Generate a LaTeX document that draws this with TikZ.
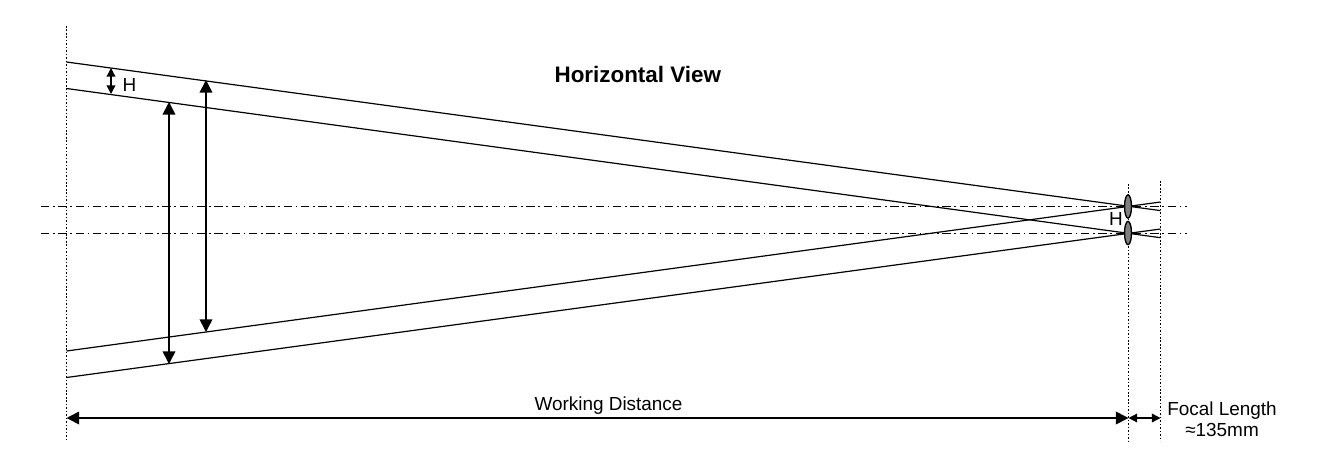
\documentclass[tikz,border=0pt]{standalone}
\usepackage{fontspec}
\setmainfont{Liberation Sans}
\usetikzlibrary{arrows.meta,shapes.geometric}
\tikzset{every picture/.style={line width=0.75pt},
  beam/.style={line width=0.9pt},
  guide/.style={line width=0.9pt,dash pattern=on 1.2pt off 1.4pt},
  axis/.style={line width=0.75pt,dash pattern=on 6.2pt off 2.85pt on 1.1pt off 2.85pt},
  dim/.style={line width=1.2pt,{Triangle[length=9.5pt,width=9.5pt]}-{Triangle[length=9.5pt,width=9.5pt]}},
  smalldim/.style={line width=1pt,{Triangle[length=6.5pt,width=6.5pt]}-{Triangle[length=6.5pt,width=6.5pt]}},
  lens/.style={draw,line width=1pt,fill=black!50,ellipse,minimum width=5.2pt,minimum height=17.5pt,inner sep=0pt},
  lbl/.style={inner sep=0.75pt,font=\fontsize{14.2}{15.75}\selectfont,align=center}}
\begin{document}
\begin{tikzpicture}[x=0.75pt,y=0.75pt,yscale=-1,xscale=1]
\useasboundingbox (0,0) rectangle (1319,467);

%Guide ends
\coordinate (objT) at (66.5,26);
\coordinate (objB) at (66.5,441);
\coordinate (lensT) at (1128.5,184);
\coordinate (lensB) at (1128.5,441);
\coordinate (focT) at (1160.5,181);
\coordinate (focB) at (1160.5,441);
\draw [guide] (objT) -- (objB);
\draw [guide] (lensT) -- (lensB);
\draw [guide] (focT) -- (focB);

%Center lines
\coordinate (axisAL) at (41,206.5);
\coordinate (axisAR) at (1187,206.5);
\coordinate (axisBL) at (41,233);
\coordinate (axisBR) at (1187,233);
\draw [axis] (axisAL) -- (axisAR);
\draw [axis] (axisBL) -- (axisBR);

%Beams
\coordinate (beamAL) at (66.5,62);
\coordinate (beamAR) at (1160.5,210.6);
\coordinate (beamBL) at (66.5,88.5);
\coordinate (beamBR) at (1160.5,237.7);
\coordinate (beamCL) at (66.5,351);
\coordinate (beamCR) at (1160.5,202);
\coordinate (beamDL) at (66.5,377.5);
\coordinate (beamDR) at (1160.5,229);
\draw [beam] (beamAL) -- (beamAR);
\draw [beam] (beamBL) -- (beamBR);
\draw [beam] (beamCL) -- (beamCR);
\draw [beam] (beamDL) -- (beamDR);

%Lenses
\node [lens] (lensA) at (1128,206.5) {};
\node [lens] (lensC) at (1128,233) {};

%Height arrows
\coordinate (hT) at (111,68);
\coordinate (hB) at (111,94);
\coordinate (spanAT) at (169,102);
\coordinate (spanAB) at (169,364);
\coordinate (spanBT) at (206,80);
\coordinate (spanBB) at (206,332);
\draw [smalldim] (hT) -- (hB);
\draw [dim] (spanAT) -- (spanAB);
\draw [dim] (spanBT) -- (spanBB);

%Distance arrows
\coordinate (wdL) at (66.5,418);
\coordinate (wdR) at (1128.5,418);
\coordinate (flR) at (1160.5,418);
\draw [dim] (wdL) -- (wdR);
\draw [smalldim] (wdR) -- (flR);

% Text Node
\node [lbl,font=\fontsize{16.8}{20}\selectfont\bfseries,anchor=base] (title) at (637.8,82.5) {Horizontal View};
% Text Node
\node [lbl,anchor=base] (hFar) at (129.5,91) {H};
% Text Node
\node [lbl,anchor=base] (hNear) at (1116,225) {H};
% Text Node
\node [lbl,anchor=base] (wdText) at (608.5,410) {Working Distance};
% Text Node
\node [lbl] (flText) at (1222,419) {Focal Length\\≈135mm};

\end{tikzpicture}
\end{document}
